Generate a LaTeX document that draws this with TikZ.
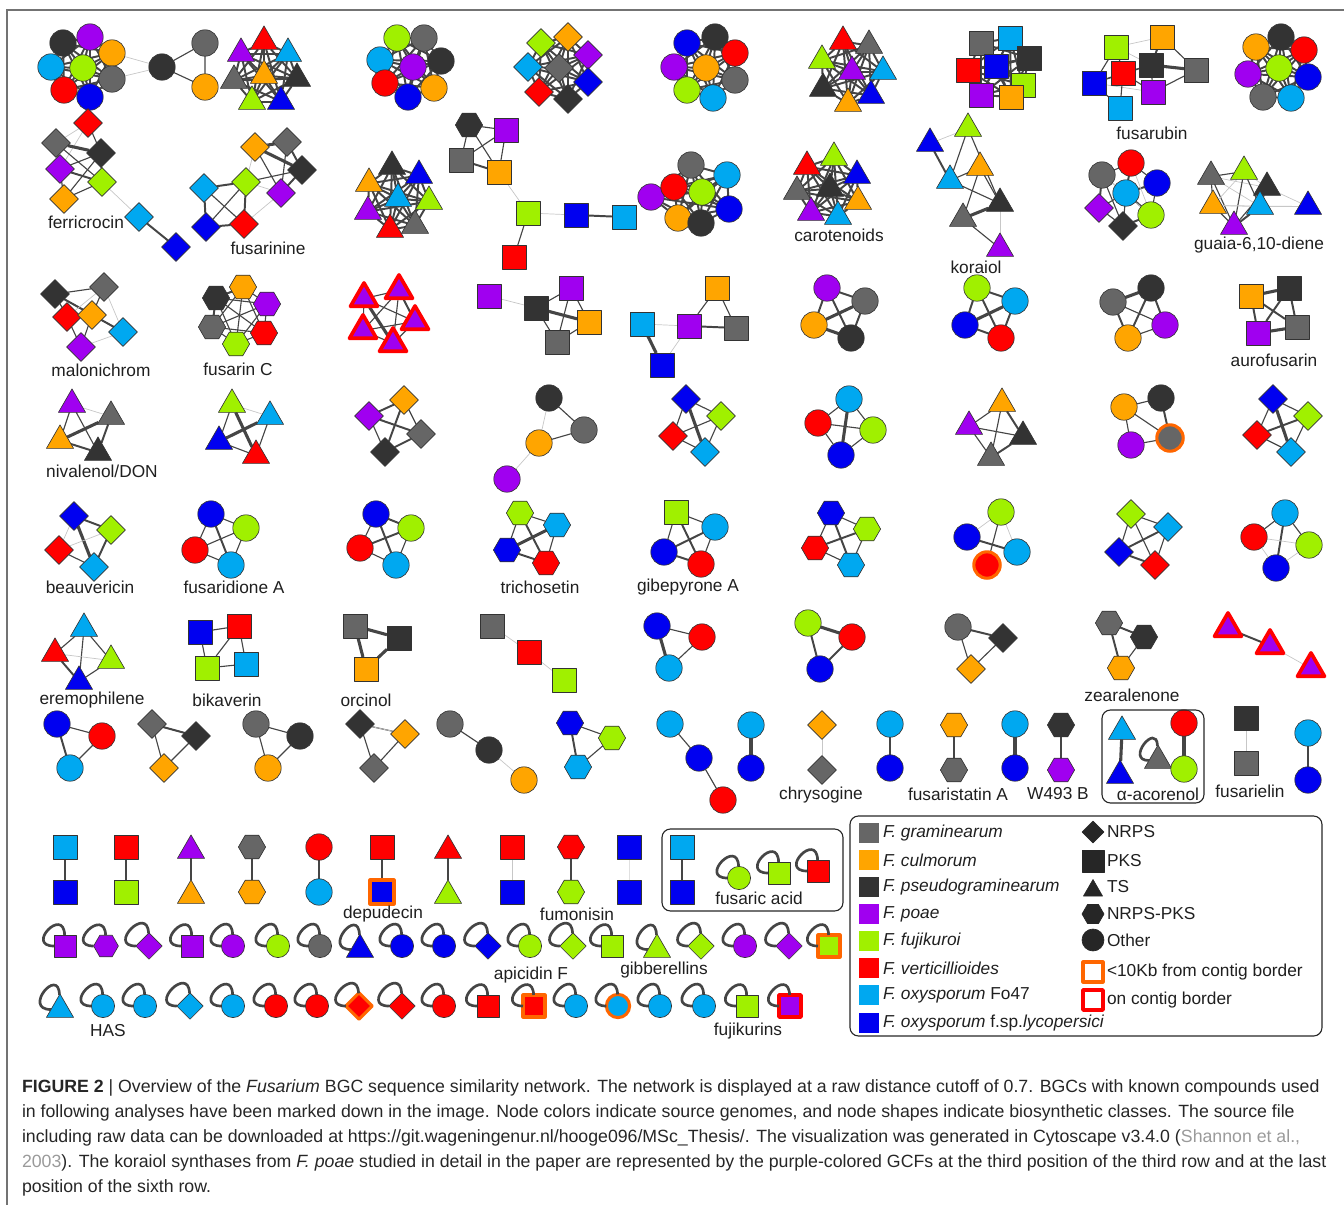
\documentclass[tikz,border=0pt]{standalone}
\usepackage{fontspec}
\setmainfont{Liberation Sans}
\usepackage{tikz}
\usetikzlibrary{backgrounds, fit, positioning, shapes, shapes.geometric}

\definecolor{cgram}{HTML}{666666}
\definecolor{cculm}{HTML}{FFA500}
\definecolor{cpseu}{HTML}{333333}
\definecolor{cpoae}{HTML}{A000F0}
\definecolor{cfuji}{HTML}{A0F000}
\definecolor{cvert}{HTML}{FF0000}
\definecolor{coxy}{HTML}{00A8F0}
\definecolor{coxl}{HTML}{0000F0}
\definecolor{cnear}{HTML}{FF6600}
\definecolor{cedge}{HTML}{454545}
\definecolor{ccite}{HTML}{9A9A9A}

\begin{document}
\begin{tikzpicture}[x=0.025cm, y=-0.025cm, font=\fontsize{12.3}{14}\selectfont]
\tikzset{every node/.style={inner sep=0pt, outer sep=0pt}}

\tikzstyle{bgc}=[draw=black!80, line width=0.45pt, line join=round]
\tikzstyle{ci}=[bgc, circle, minimum size=0.66cm]
\tikzstyle{sq}=[bgc, rectangle, minimum size=0.6cm]
\tikzstyle{tr}=[bgc, regular polygon, regular polygon sides=3, minimum size=0.78cm, yshift=-2.5pt]
\tikzstyle{di}=[bgc, diamond, minimum size=0.72cm]
\tikzstyle{hx}=[bgc, regular polygon, regular polygon sides=6, minimum size=0.68cm]
\tikzstyle{gram}=[fill=cgram]
\tikzstyle{culm}=[fill=cculm]
\tikzstyle{pseu}=[fill=cpseu]
\tikzstyle{poae}=[fill=cpoae]
\tikzstyle{fuji}=[fill=cfuji]
\tikzstyle{vert}=[fill=cvert]
\tikzstyle{oxy}=[fill=coxy]
\tikzstyle{oxl}=[fill=coxl]
\tikzstyle{nob}=[]
\tikzstyle{nb}=[draw=cnear, line width=2.2pt]
\tikzstyle{ob}=[draw=cvert, line width=2.6pt]
\tikzstyle{e1}=[line width=0.5pt, draw=black!22]
\tikzstyle{e2}=[line width=0.8pt, draw=cedge]
\tikzstyle{e3}=[line width=1.4pt, draw=cedge]
\tikzstyle{e4}=[line width=2.2pt, draw=cedge]
\tikzstyle{dense}=[line width=1.4pt, draw=cedge]
\tikzstyle{sloop}=[line width=1.9pt, draw=cedge, out=92, in=180, min distance=0.72cm, looseness=1]
\tikzstyle{lab}=[text=black!88]
\tikzstyle{grp}=[draw=black!85, line width=0.8pt, rounded corners=6pt]
\tikzstyle{capline}=[anchor=base west, font=\fontsize{12.6}{15}\selectfont, text=black!85]

\useasboundingbox (0,0) rectangle (1344,1205);
\draw[black!55, line width=1pt] (7,1205) -- (7,10) -- (1344,10);

%% row 1
\foreach \c/\x/\y [count=\i] in {pseu/63/43, poae/90/37, culm/112/53, oxy/51/67, fuji/83/68, gram/112/79, vert/64/90, oxl/90/97}
  \node[ci,\c] (ka\i) at (\x,\y) {};
\foreach \c/\x/\y [count=\i] in {pseu/162/67, gram/205/43, culm/205/87}
  \node[ci,\c] (kb\i) at (\x,\y) {};
\foreach \c/\x/\y [count=\i] in {vert/264/38, poae/241/50, oxy/288/50, culm/264/72, gram/234/77, pseu/297/75, fuji/252/98, oxl/281/98}
  \node[tr,\c] (kc\i) at (\x,\y) {};
\foreach \c/\x/\y [count=\i] in {fuji/397/38, gram/424/38, oxy/380/60, poae/413/67, pseu/441/61, vert/385/83, culm/434/88, oxl/408/97}
  \node[ci,\c] (kd\i) at (\x,\y) {};
\foreach \c/\x/\y [count=\i] in {fuji/541/43, culm/568/37, poae/588/55, oxy/528/67, gram/559/68, oxl/588/82, vert/539/92, pseu/568/99}
  \node[di,\c] (ke\i) at (\x,\y) {};
\foreach \c/\x/\y [count=\i] in {oxl/687/43, pseu/715/37, vert/735/53, poae/674/67, culm/706/68, gram/735/80, fuji/687/90, oxy/713/98}
  \node[ci,\c] (kf\i) at (\x,\y) {};
\foreach \c/\x/\y [count=\i] in {vert/843/38, gram/869/42, fuji/822/57, poae/852/68, oxy/883/68, pseu/823/85, oxl/871/92, culm/848/100}
  \node[tr,\c] (kg\i) at (\x,\y) {};
\foreach \c/\x/\y [count=\i] in {gram/981/43, oxy/1010/38, pseu/1029/58, vert/968/70, oxl/996/66, fuji/1023/85, poae/981/95, culm/1011/97}
  \node[sq,\c] (kh\i) at (\x,\y) {};
\foreach \c/\x/\y [count=\i] in {culm/1162/37, fuji/1116/47, pseu/1151/65, gram/1196/70, vert/1123/73, oxl/1094/83, poae/1153/92, oxy/1120/108}
  \node[sq,\c] (fsrb\i) at (\x,\y) {};
\foreach \c/\x/\y [count=\i] in {culm/1256/47, pseu/1281/37, vert/1304/50, poae/1248/74, fuji/1279/68, oxl/1308/77, gram/1263/97, oxy/1291/98}
  \node[ci,\c] (ki\i) at (\x,\y) {};
\node[lab] (l fsrb) at (1152,133) {fusarubin};

\begin{scope}[on background layer]
  \foreach \k in {ka,kc,kd,ke,kf,kg,kh,ki}
    \foreach \i in {1,...,8} \foreach \j in {\i,...,8} {\ifnum\i<\j \draw[dense] (\k\i) -- (\k\j);\fi}
  \draw[e1] (ka3) -- (kb1) (ka6) -- (kb1);
  \draw[e2] (kb1) -- (kb2) -- (kb3) -- (kb1);
  \foreach \a/\b/\w in {1/2/e1, 6/7/e1, 2/3/e1, 1/4/e2, 2/5/e2, 2/6/e2, 3/5/e2, 3/7/e2, 5/6/e2, 5/7/e2, 6/8/e2, 4/7/e2, 3/6/e2, 5/8/e2, 1/3/e3, 3/4/e4}
    \draw[\w] (fsrb\a) -- (fsrb\b);
\end{scope}

%% row 2
\foreach \c/\x/\y [count=\i] in {vert/88/123, gram/56/143, pseu/101/153, poae/60/169, fuji/102/182, culm/64/199, oxy/139/217, oxl/176/247}
  \node[di,\c] (feri\i) at (\x,\y) {};
\foreach \c/\x/\y [count=\i] in {culm/255/147, gram/287/142, pseu/302/170, fuji/246/182, poae/281/193, oxy/204/188, oxl/206/227, vert/244/224}
  \node[di,\c] (fsnn\i) at (\x,\y) {};
\foreach \c/\x/\y [count=\i] in {pseu/392/163, oxl/419/172, culm/369/180, oxy/398/195, fuji/429/198, poae/368/208, vert/390/226, gram/415/222}
  \node[tr,\c] (kj\i) at (\x,\y) {};
\foreach \s/\c/\x/\y [count=\i] in {hx/pseu/469/125, sq/poae/506/130, sq/gram/461/160, sq/culm/499/172, sq/fuji/528/213, sq/oxl/576/215, sq/oxy/624/217, sq/vert/514/257}
  \node[\s,\c] (kk\i) at (\x,\y) {};
\foreach \c/\x/\y [count=\i] in {poae/651/197, vert/674/187, gram/691/165, oxy/727/175, fuji/702/192, oxl/729/209, culm/678/218, pseu/701/223}
  \node[ci,\c] (kl\i) at (\x,\y) {};
\foreach \c/\x/\y [count=\i] in {vert/807/163, fuji/834/154, oxl/857/172, gram/797/188, pseu/830/185, culm/858/198, poae/811/209, oxy/838/213}
  \node[tr,\c] (caro\i) at (\x,\y) {};
\foreach \c/\x/\y [count=\i] in {fuji/968/125, oxl/930/140, culm/980/164, oxy/950/177, pseu/1000/200, gram/963/215, poae/1000/245}
  \node[tr,\c] (kora\i) at (\x,\y) {};
\foreach \s/\c/\x/\y [count=\i] in {ci/vert/1131/163, ci/gram/1102/175, ci/oxl/1157/183, ci/oxy/1126/193, di/poae/1099/208, ci/fuji/1151/215, di/pseu/1123/226}
  \node[\s,\c] (km\i) at (\x,\y) {};
\foreach \c/\x/\y [count=\i] in {gram/1211/173, fuji/1244/168, pseu/1267/184, culm/1213/202, oxy/1260/203, oxl/1308/203, poae/1234/223}
  \node[tr,\c] (guai\i) at (\x,\y) {};
\node[lab] (l feri) at (86,222) {ferricrocin};
\node[lab] (l fsnn) at (268,248) {fusarinine};
\node[lab] (l caro) at (839,235) {carotenoids};
\node[lab] (l kora) at (976,267) {koraiol};
\node[lab] (l guai) at (1259,245) {guaia-6,10-diene};

\begin{scope}[on background layer]
  \foreach \k in {kj,kl,caro}
    \foreach \i in {1,...,8} \foreach \j in {\i,...,8} {\ifnum\i<\j \draw[dense] (\k\i) -- (\k\j);\fi}
  \foreach \a/\b/\w in {1/2/e1, 1/4/e1, 5/7/e1, 2/6/e1, 1/3/e2, 2/4/e2, 2/5/e2, 3/4/e2, 3/6/e2, 4/6/e2, 5/6/e2, 4/5/e3, 3/5/e3, 7/8/e3, 2/3/e4}
    \draw[\w] (feri\a) -- (feri\b);
  \foreach \a/\b/\w in {1/4/e1, 8/5/e1, 4/5/e1, 2/5/e2, 1/5/e2, 3/4/e2, 6/8/e2, 7/4/e2, 2/3/e3, 4/6/e3, 4/8/e3, 6/7/e3, 7/8/e3, 3/5/e3, 1/2/e4, 1/3/e4}
    \draw[\w] (fsnn\a) -- (fsnn\b);
  \foreach \a/\b/\w in {1/2/e2, 1/3/e2, 1/4/e2, 2/3/e2, 2/4/e2, 3/4/e3, 4/5/e1, 5/6/e1, 6/7/e3, 5/8/e2}
    \draw[\w] (kk\a) -- (kk\b);
  \foreach \a/\b/\w in {1/2/e1, 5/7/e1, 1/4/e2, 1/5/e2, 3/4/e2, 3/6/e2, 4/5/e2, 6/7/e2, 3/5/e2, 2/4/e3, 5/6/e4}
    \draw[\w] (kora\a) -- (kora\b);
  \foreach \a/\b/\w in {1/2/e2, 1/3/e2, 1/4/e3, 2/4/e1, 2/5/e3, 2/7/e2, 3/4/e3, 3/6/e2, 4/6/e3, 4/5/e2, 4/7/e2, 5/7/e2, 6/7/e3, 1/6/e1, 2/6/e1}
    \draw[\w] (km\a) -- (km\b);
  \foreach \a/\b/\w in {1/2/e2, 1/4/e2, 1/3/e1, 1/5/e1, 1/7/e2, 2/4/e1, 2/5/e2, 2/7/e2, 2/3/e1, 3/5/e2, 3/6/e1, 3/7/e2, 4/5/e1, 4/6/e1, 4/7/e2, 5/7/e3, 5/6/e1}
    \draw[\w] (guai\a) -- (guai\b);
\end{scope}

%% row 3
\foreach \c/\x/\y [count=\i] in {pseu/55/294, gram/104/287, vert/67/317, culm/92/315, oxy/123/332, poae/81/347}
  \node[di,\c] (malo\i) at (\x,\y) {};
\foreach \c/\x/\y [count=\i] in {pseu/216/298, culm/243/287, poae/267/304, gram/212/327, vert/264/333, fuji/236/344}
  \node[hx,\c] (fusc\i) at (\x,\y) {};
\foreach \x/\y [count=\i] in {399/287, 364/295, 415/318, 363/327, 393/340}
  \node[tr,poae,ob] (kn\i) at (\x,\y) {};
\foreach \c/\x/\y [count=\i] in {poae/489/296, pseu/536/308, poae/571/288, culm/589/322, gram/557/342}
  \node[sq,\c] (ko\i) at (\x,\y) {};
\foreach \c/\x/\y [count=\i] in {oxy/642/324, oxl/662/365, poae/689/326, culm/717/288, gram/736/328}
  \node[sq,\c] (kp\i) at (\x,\y) {};
\foreach \c/\x/\y [count=\i] in {poae/827/288, gram/865/301, culm/814/325, pseu/851/338}
  \node[ci,\c] (kq\i) at (\x,\y) {};
\foreach \c/\x/\y [count=\i] in {fuji/977/288, oxy/1015/301, oxl/965/325, vert/1001/338}
  \node[ci,\c] (kr\i) at (\x,\y) {};
\foreach \c/\x/\y [count=\i] in {pseu/1151/288, gram/1113/302, poae/1165/325, culm/1128/338}
  \node[ci,\c] (ks\i) at (\x,\y) {};
\foreach \c/\x/\y [count=\i] in {culm/1251/296, pseu/1289/288, poae/1258/333, gram/1297/327}
  \node[sq,\c] (auro\i) at (\x,\y) {};
\node[lab] (l malo) at (101,370) {malonichrom};
\node[lab] (l fusc) at (238,369) {fusarin C};
\node[lab] (l auro) at (1274,360) {aurofusarin};

\begin{scope}[on background layer]
  \foreach \a/\b/\w in {1/2/e2, 1/3/e2, 1/4/e2, 1/5/e3, 2/4/e2, 2/3/e1, 2/5/e1, 3/4/e2, 3/6/e2, 4/6/e2, 4/5/e2, 6/5/e1}
    \draw[\w] (malo\a) -- (malo\b);
  \foreach \i in {1,...,6} \foreach \j in {\i,...,6} {\ifnum\i<\j \draw[e2] (fusc\i) -- (fusc\j);\fi}
  \draw[e3] (fusc1) -- (fusc2) (fusc1) -- (fusc4);
  \foreach \i in {1,...,5} \foreach \j in {\i,...,5} {\ifnum\i<\j \draw[e2] (kn\i) -- (kn\j);\fi}
  \draw[e4] (kn2) -- (kn5);
  \draw[e3] (kn1) -- (kn3);
  \foreach \a/\b/\w in {1/2/e1, 2/3/e2, 2/4/e4, 2/5/e2, 3/4/e2, 3/5/e2, 4/5/e2}
    \draw[\w] (ko\a) -- (ko\b);
  \foreach \a/\b/\w in {1/2/e4, 1/3/e1, 3/4/e2, 4/5/e2, 3/5/e3, 2/3/e1}
    \draw[\w] (kp\a) -- (kp\b);
  \foreach \a/\b/\w in {1/2/e3, 1/3/e3, 1/4/e3, 2/3/e4, 2/4/e3, 3/4/e4}
    \draw[\w] (kq\a) -- (kq\b);
  \foreach \a/\b/\w in {1/2/e3, 1/3/e3, 1/4/e3, 2/3/e4, 2/4/e3, 3/4/e3}
    \draw[\w] (kr\a) -- (kr\b);
  \foreach \a/\b/\w in {1/2/e4, 1/3/e3, 1/4/e3, 2/3/e2, 2/4/e3, 3/4/e2}
    \draw[\w] (ks\a) -- (ks\b);
  \foreach \a/\b/\w in {1/2/e4, 1/3/e3, 1/4/e3, 2/3/e3, 2/4/e3, 3/4/e4}
    \draw[\w] (auro\a) -- (auro\b);
\end{scope}

%% row 4
\foreach \c/\x/\y [count=\i] in {poae/72/401, gram/111/413, culm/60/437, pseu/98/449}
  \node[tr,\c] (nivd\i) at (\x,\y) {};
\foreach \c/\x/\y [count=\i] in {fuji/232/401, oxy/270/413, oxl/219/438, vert/256/452}
  \node[tr,\c] (kt\i) at (\x,\y) {};
\foreach \c/\x/\y [count=\i] in {culm/404/400, poae/369/416, gram/421/434, pseu/385/452}
  \node[di,\c] (ku\i) at (\x,\y) {};
\foreach \c/\x/\y [count=\i] in {pseu/549/398, gram/584/430, culm/539/443, poae/507/479}
  \node[ci,\c] (kv\i) at (\x,\y) {};
\foreach \c/\x/\y [count=\i] in {oxl/686/399, fuji/721/416, vert/673/436, oxy/705/452}
  \node[di,\c] (kw\i) at (\x,\y) {};
\foreach \c/\x/\y [count=\i] in {oxy/849/399, vert/818/423, fuji/873/430, oxl/841/455}
  \node[ci,\c] (kx\i) at (\x,\y) {};
\foreach \c/\x/\y [count=\i] in {culm/1002/400, poae/969/423, pseu/1023/433, gram/991/454}
  \node[tr,\c] (ky\i) at (\x,\y) {};
\foreach \c/\b/\x/\y [count=\i] in {culm/nob/1124/407, pseu/nob/1161/398, poae/nob/1131/445, gram/nb/1170/438}
  \node[ci,\c,\b] (kz\i) at (\x,\y) {};
\foreach \c/\x/\y [count=\i] in {oxl/1273/399, fuji/1308/416, vert/1257/435, oxy/1291/452}
  \node[di,\c] (la\i) at (\x,\y) {};
\node[lab] (l nivd) at (102,471) {nivalenol/DON};

\begin{scope}[on background layer]
  \foreach \a/\b/\w in {1/2/e1, 1/3/e2, 1/4/e2, 2/3/e4, 2/4/e3, 3/4/e3}
    \draw[\w] (nivd\a) -- (nivd\b);
  \foreach \a/\b/\w in {1/2/e1, 1/3/e2, 1/4/e4, 2/3/e4, 2/4/e2, 3/4/e2}
    \draw[\w] (kt\a) -- (kt\b);
  \foreach \a/\b/\w in {1/2/e3, 1/3/e2, 1/4/e3, 2/3/e3, 2/4/e2, 3/4/e3}
    \draw[\w] (ku\a) -- (ku\b);
  \foreach \a/\b/\w in {1/3/e1, 1/2/e2, 2/3/e2, 3/4/e1}
    \draw[\w] (kv\a) -- (kv\b);
  \foreach \a/\b/\w in {1/2/e2, 1/3/e2, 1/4/e4, 2/3/e2, 2/4/e2, 3/4/e2}
    \draw[\w] (kw\a) -- (kw\b);
  \foreach \a/\b/\w in {1/2/e2, 1/3/e2, 1/4/e4, 2/3/e2, 2/4/e2, 3/4/e2}
    \draw[\w] (kx\a) -- (kx\b);
  \foreach \a/\b/\w in {1/2/e2, 1/3/e3, 1/4/e2, 2/3/e2, 2/4/e2, 3/4/e3}
    \draw[\w] (ky\a) -- (ky\b);
  \foreach \a/\b/\w in {1/2/e2, 1/3/e2, 1/4/e2, 2/4/e3, 3/4/e2}
    \draw[\w] (kz\a) -- (kz\b);
  \foreach \a/\b/\w in {1/2/e2, 1/3/e2, 1/4/e4, 2/3/e3, 2/4/e2, 3/4/e2}
    \draw[\w] (la\a) -- (la\b);
\end{scope}

%% row 5
\foreach \c/\x/\y [count=\i] in {oxl/74/516, fuji/111/530, vert/59/550, oxy/94/567}
  \node[di,\c] (beau\i) at (\x,\y) {};
\foreach \c/\x/\y [count=\i] in {oxl/211/514, fuji/246/528, vert/195/550, oxy/231/565}
  \node[ci,\c] (fsda\i) at (\x,\y) {};
\foreach \c/\x/\y [count=\i] in {oxl/376/514, fuji/411/528, vert/360/548, oxy/396/565}
  \node[ci,\c] (lb\i) at (\x,\y) {};
\foreach \c/\x/\y [count=\i] in {fuji/520/513, oxy/557/525, oxl/507/550, vert/546/563}
  \node[hx,\c] (tric\i) at (\x,\y) {};
\foreach \s/\c/\x/\y [count=\i] in {sq/fuji/676/512, ci/oxy/715/527, ci/oxl/664/552, ci/vert/701/564}
  \node[\s,\c] (gibe\i) at (\x,\y) {};
\foreach \c/\x/\y [count=\i] in {oxl/831/513, fuji/867/529, vert/815/548, oxy/851/565}
  \node[hx,\c] (lc\i) at (\x,\y) {};
\foreach \c/\b/\x/\y [count=\i] in {fuji/nob/1001/512, oxl/nob/967/537, oxy/nob/1017/552, vert/nb/987/565}
  \node[ci,\c,\b] (ld\i) at (\x,\y) {};
\foreach \c/\x/\y [count=\i] in {fuji/1131/514, oxy/1168/527, oxl/1119/552, vert/1155/565}
  \node[di,\c] (le\i) at (\x,\y) {};
\foreach \c/\x/\y [count=\i] in {oxy/1285/513, vert/1254/537, fuji/1309/545, oxl/1276/568}
  \node[ci,\c] (lf\i) at (\x,\y) {};
\node[lab] (l beau) at (90,587) {beauvericin};
\node[lab] (l fsda) at (234,587) {fusaridione A};
\node[lab] (l tric) at (540,587) {trichosetin};
\node[lab] (l gibe) at (688,587) {gibepyrone A};

\begin{scope}[on background layer]
  \foreach \a/\b/\w in {1/2/e3, 1/3/e1, 1/4/e4, 2/3/e1, 2/4/e3, 3/4/e2}
    \draw[\w] (beau\a) -- (beau\b);
  \foreach \a/\b/\w in {1/2/e2, 1/3/e2, 1/4/e3, 2/3/e2, 2/4/e2, 3/4/e2}
    \draw[\w] (fsda\a) -- (fsda\b);
  \foreach \a/\b/\w in {1/2/e3, 1/3/e2, 1/4/e3, 2/3/e3, 2/4/e2, 3/4/e2}
    \draw[\w] (lb\a) -- (lb\b);
  \foreach \a/\b/\w in {1/2/e2, 1/3/e2, 1/4/e3, 2/3/e4, 2/4/e2, 3/4/e3}
    \draw[\w] (tric\a) -- (tric\b);
  \foreach \a/\b/\w in {1/2/e2, 1/3/e2, 1/4/e3, 2/3/e3, 2/4/e2, 3/4/e3}
    \draw[\w] (gibe\a) -- (gibe\b);
  \foreach \a/\b/\w in {1/2/e2, 1/3/e2, 1/4/e3, 2/3/e3, 2/4/e2, 3/4/e2}
    \draw[\w] (lc\a) -- (lc\b);
  \foreach \a/\b/\w in {1/2/e1, 1/4/e2, 1/3/e1, 2/3/e3}
    \draw[\w] (ld\a) -- (ld\b);
  \foreach \a/\b/\w in {1/2/e2, 1/3/e2, 1/4/e2, 2/3/e3, 2/4/e2, 3/4/e3}
    \draw[\w] (le\a) -- (le\b);
  \foreach \a/\b/\w in {1/2/e2, 1/3/e2, 1/4/e3, 2/3/e1, 2/4/e1, 3/4/e1}
    \draw[\w] (lf\a) -- (lf\b);
\end{scope}

%% row 6
\foreach \c/\x/\y [count=\i] in {oxy/84/625, vert/55/650, fuji/111/657, oxl/79/678}
  \node[tr,\c] (erem\i) at (\x,\y) {};
\foreach \c/\x/\y [count=\i] in {oxl/200/632, vert/239/626, oxy/246/664, fuji/207/668}
  \node[sq,\c] (bika\i) at (\x,\y) {};
\foreach \c/\x/\y [count=\i] in {gram/355/626, pseu/399/638, culm/366/669}
  \node[sq,\c] (orci\i) at (\x,\y) {};
\foreach \c/\x/\y [count=\i] in {gram/492/626, vert/529/652, fuji/564/680}
  \node[sq,\c] (lg\i) at (\x,\y) {};
\foreach \c/\x/\y [count=\i] in {oxl/657/626, vert/702/637, oxy/669/668}
  \node[ci,\c] (lh\i) at (\x,\y) {};
\foreach \c/\x/\y [count=\i] in {fuji/808/623, vert/852/637, oxl/820/669}
  \node[ci,\c] (li\i) at (\x,\y) {};
\foreach \s/\c/\x/\y [count=\i] in {ci/gram/958/627, di/pseu/1003/638, di/culm/971/669}
  \node[\s,\c] (lj\i) at (\x,\y) {};
\foreach \c/\x/\y [count=\i] in {gram/1109/623, pseu/1144/637, culm/1121/668}
  \node[hx,\c] (zear\i) at (\x,\y) {};
\foreach \x/\y [count=\i] in {1228/625, 1270/642, 1311/665}
  \node[tr,poae,ob] (lk\i) at (\x,\y) {};
\node[lab] (l erem) at (92,700) {eremophilene};
\node[lab] (l bika) at (227,700) {bikaverin};
\node[lab] (l orci) at (366,700) {orcinol};
\node[lab] (l zear) at (1132,695) {zearalenone};

\begin{scope}[on background layer]
  \foreach \a/\b/\w in {1/2/e2, 1/3/e2, 1/4/e2, 2/3/e1, 2/4/e3, 3/4/e2}
    \draw[\w] (erem\a) -- (erem\b);
  \foreach \a/\b/\w in {1/2/e2, 1/4/e2, 2/3/e2, 2/4/e2, 3/4/e2}
    \draw[\w] (bika\a) -- (bika\b);
  \foreach \a/\b/\w in {1/2/e4, 1/3/e4, 2/3/e4}
    \draw[\w] (orci\a) -- (orci\b);
  \foreach \a/\b/\w in {1/2/e1, 2/3/e1}
    \draw[\w] (lg\a) -- (lg\b);
  \foreach \a/\b/\w in {1/2/e2, 1/3/e4, 2/3/e2}
    \draw[\w] (lh\a) -- (lh\b);
  \foreach \a/\b/\w in {1/2/e4, 1/3/e3, 2/3/e3}
    \draw[\w] (li\a) -- (li\b);
  \foreach \a/\b/\w in {1/2/e3, 1/3/e2, 2/3/e2}
    \draw[\w] (lj\a) -- (lj\b);
  \foreach \a/\b/\w in {1/2/e3, 1/3/e3, 2/3/e2}
    \draw[\w] (zear\a) -- (zear\b);
  \draw[e3] (lk1) -- (lk2);
  \draw[e1] (lk2) -- (lk3);
\end{scope}

%% row 7
\foreach \c/\x/\y [count=\i] in {oxl/57/724, vert/102/736, oxy/70/768}
  \node[ci,\c] (ma\i) at (\x,\y) {};
\foreach \c/\x/\y [count=\i] in {gram/152/724, pseu/196/736, culm/164/768}
  \node[di,\c] (mb\i) at (\x,\y) {};
\foreach \c/\x/\y [count=\i] in {gram/256/724, pseu/300/736, culm/268/768}
  \node[ci,\c] (mc\i) at (\x,\y) {};
\foreach \c/\x/\y [count=\i] in {pseu/360/724, culm/405/734, gram/374/768}
  \node[di,\c] (md\i) at (\x,\y) {};
\foreach \c/\x/\y [count=\i] in {gram/450/724, pseu/489/750, culm/524/780}
  \node[ci,\c] (me\i) at (\x,\y) {};
\foreach \c/\x/\y [count=\i] in {oxl/570/723, fuji/612/738, oxy/578/767}
  \node[hx,\c] (mf\i) at (\x,\y) {};
\foreach \c/\x/\y [count=\i] in {oxy/670/724, oxl/699/758, vert/723/800}
  \node[ci,\c] (mg\i) at (\x,\y) {};
\foreach \s/\c/\d/\x/\ya/\yb [count=\i] in {ci/oxy/oxl/751/725/768, di/culm/gram/822/725/770, ci/oxy/oxl/890/724/768, hx/culm/gram/954/725/770, ci/oxy/oxl/1015/724/768, hx/pseu/poae/1061/725/770, sq/pseu/gram/1246/718/763, ci/oxy/oxl/1308/733/780}
  {\node[\s,\c] (mp\i) at (\x,\ya) {}; \node[\s,\d] (mq\i) at (\x,\yb) {};}
\node[tr,oxy] (acor1) at (1122,728) {};
\node[tr,oxl] (acor2) at (1120,772) {};
\node[tr,gram] (acor3) at (1158,757) {};
\node[ci,vert] (acor4) at (1184,723) {};
\node[ci,fuji] (acor5) at (1184,769) {};
\node[lab] (l chry) at (821,795) {chrysogine};
\node[lab] (l fsta) at (958,794) {fusaristatin A};
\node[lab] (l w493) at (1058,794) {W493 B};
\node[lab] (l acor) at (1158,794) {α-acorenol};
\node[lab] (l fsrl) at (1250,791) {fusarielin};
\draw[grp] (1102,710) rectangle (1204,803);

\begin{scope}[on background layer]
  \foreach \k/\w in {ma/e3, mb/e2, mc/e2, md/e2, mf/e3}
    {\draw[e2] (\k1) -- (\k2) -- (\k3); \draw[\w] (\k1) -- (\k3);}
  \draw[e3] (mb1) -- (mb2);
  \draw[e1] (md1) -- (md2);
  \draw[e2] (me1) -- (me2);
  \draw[e1] (me2) -- (me3);
  \draw[e2] (mg1) -- (mg2) -- (mg3);
  \foreach \i/\w in {1/e4, 2/e1, 3/e3, 4/e3, 5/e4, 6/e3, 7/e1, 8/e3}
    \draw[\w] (mp\i) -- (mq\i);
  \draw[e4] (acor1) -- (acor2);
  \draw[e4] (acor4) -- (acor5);
\end{scope}
\draw[sloop, min distance=0.6cm] (acor3) to (acor3);

%% row 8: pairs and singletons
\foreach \s/\c/\d/\b/\x [count=\i] in {sq/oxy/oxl/nob/65, sq/vert/fuji/nob/126, tr/poae/culm/nob/191, hx/gram/culm/nob/252, ci/vert/oxy/nob/319, sq/vert/oxl/nb/382, tr/vert/fuji/nob/448, sq/vert/oxl/nob/512, hx/vert/fuji/nob/571, sq/oxl/oxl/nob/629, sq/oxy/oxl/nob/682}
  {\node[\s,\c] (pu\i) at (\x,847) {}; \node[\s,\d,\b] (pd\i) at (\x,892) {};}
\begin{scope}[on background layer]
  \foreach \i in {1,2,3,4,5,6,7,9,11}
    \draw[e2] (pu\i) -- (pd\i);
  \draw[e1] (pu8) -- (pd8);
  \draw[e1, draw=black!12] (pu10) -- (pd10);
\end{scope}

\begin{scope}[ci/.append style={minimum size=0.58cm}, sq/.append style={minimum size=0.55cm}, di/.append style={minimum size=0.66cm}, hx/.append style={minimum size=0.62cm}]
\foreach \s/\c/\x/\y [count=\i] in {ci/fuji/739/878, sq/fuji/779/873, sq/vert/818/871}
  {\node[\s,\c] (fuac\i) at (\x,\y) {}; \draw[sloop] (fuac\i) to (fuac\i);}
\foreach \s/\c/\b/\x [count=\i] in {sq/poae/nob/65, hx/poae/nob/106, di/poae/nob/149, sq/poae/nob/192, ci/poae/nob/233, ci/fuji/nob/278, ci/gram/nob/320, tr/oxl/nob/360, ci/oxl/nob/402, ci/oxl/nob/444, di/oxl/nob/488, ci/fuji/nob/530, di/fuji/nob/573, sq/fuji/nob/612, tr/fuji/nob/657, di/fuji/nob/701, ci/poae/nob/745, di/poae/nob/789, sq/fuji/nb/829}
  {\node[\s,\c,\b] (sa\i) at (\x,946) {}; \draw[sloop] (sa\i) to (sa\i);}
\foreach \s/\c/\b/\x [count=\i] in {tr/oxy/nob/60, ci/oxy/nob/103, ci/oxy/nob/145, di/oxy/nob/190, ci/oxy/nob/233, ci/vert/nob/276, ci/vert/nob/317, di/vert/nb/359, di/vert/nob/402, ci/vert/nob/444, sq/vert/nob/488, sq/vert/nb/534, ci/oxy/nob/576, ci/oxy/nb/618, ci/oxy/nob/660, ci/oxy/nob/704, sq/fuji/nob/747, sq/poae/ob/790}
  {\node[\s,\c,\b] (sb\i) at (\x,1006) {}; \draw[sloop] (sb\i) to (sb\i);}
\end{scope}
\draw[grp] (662,829) rectangle (843,911);
\node[lab] (l depu) at (383,914) {depudecin};
\node[lab] (l fumo) at (577,914) {fumonisin};
\node[lab] (l fuac) at (759,898) {fusaric acid};
\node[lab] (l apic) at (531,975) {apicidin F};
\node[lab] (l gibb) at (664,970) {gibberellins};
\node[lab] (l has) at (108,1031) {HAS};
\node[lab] (l fujk) at (748,1031) {fujikurins};

%% legend
\draw[grp] (850,816) rectangle (1322,1036);
\foreach \c/\t/\y [count=\i] in {gram/{\textit{F. graminearum}}/833, culm/{\textit{F. culmorum}}/860, pseu/{\textit{F. pseudograminearum}}/887, poae/{\textit{F. poae}}/914, fuji/{\textit{F. fujikuroi}}/941, vert/{\textit{F. verticillioides}}/968, oxy/{\textit{F. oxysporum} Fo47}/995, oxl/{\textit{F. oxysporum} f.sp.\textit{lycopersici}}/1023}
  {\node[sq,\c,draw=none,minimum size=0.5cm] (leg\i) at (869,\y) {};
   \node[lab, right=1mm of leg\i] (legt\i) {\t};}
\foreach \s/\t/\y [count=\i] in {di/NRPS/832, sq/PKS/861, tr/TS/887, hx/NRPS-PKS/914, ci/Other/940}
  {\node[\s, fill=black!85, draw=black!85, minimum size=0.55cm] (sym\i) at (1093,\y) {};
   \node[lab, anchor=west] (symt\i) at (1107,\y) {\t};}
\node[sq, fill=white, nb, minimum size=0.5cm] (sym6) at (1093,972) {};
\node[lab, anchor=west] (symt6) at (1107,972) {<10Kb from contig border};
\node[sq, fill=white, ob, minimum size=0.5cm] (sym7) at (1093,1000) {};
\node[lab, anchor=west] (symt7) at (1107,1000) {on contig border};

%% caption
\node[capline] (cap1) at (22,1092) {\textbf{FIGURE 2} | Overview of the \textit{Fusarium} BGC sequence similarity network. The network is displayed at a raw distance cutoff of 0.7. BGCs with known compounds used};
\node[capline] (cap2) at (22,1117) {in following analyses have been marked down in the image. Node colors indicate source genomes, and node shapes indicate biosynthetic classes. The source file};
\node[capline] (cap3) at (22,1142) {including raw data can be downloaded at https://git.wageningenur.nl/hooge096/MSc\_Thesis/. The visualization was generated in Cytoscape v3.4.0 (\textcolor{ccite}{Shannon et al.,}};
\node[capline] (cap4) at (22,1167) {\textcolor{ccite}{2003}). The koraiol synthases from \textit{F. poae} studied in detail in the paper are represented by the purple-colored GCFs at the third position of the third row and at the last};
\node[capline] (cap5) at (22,1192) {position of the sixth row.};
\end{tikzpicture}
\end{document}
